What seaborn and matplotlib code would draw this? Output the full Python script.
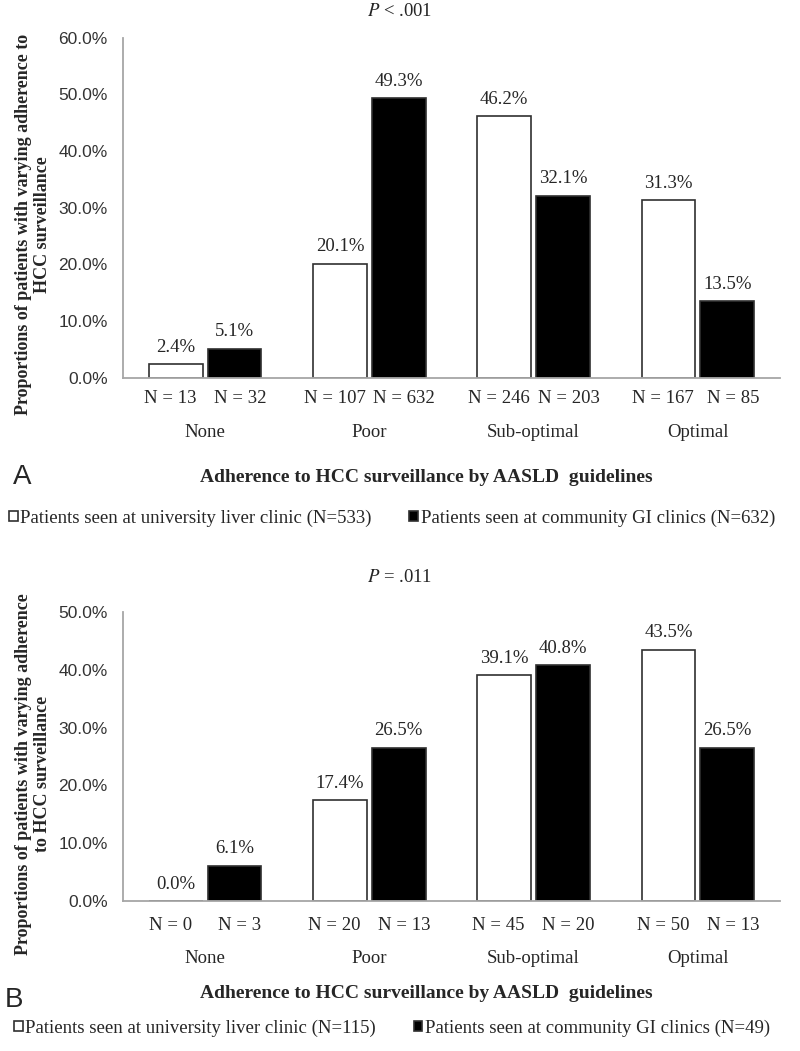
import matplotlib
matplotlib.use("Agg")
import matplotlib.pyplot as plt
import pandas as pd
import seaborn as sns
from matplotlib.ticker import FuncFormatter


CATEGORIES = ["None", "Poor", "Sub-optimal", "Optimal"]
CLINICS = ["university", "community"]

# panel A
pct_a_univ = [2.4, 20.1, 46.2, 31.3]
pct_a_comm = [5.1, 49.3, 32.1, 13.5]
n_a_univ = [13, 107, 246, 167]
n_a_comm = [32, 632, 203, 85]
legend_a = ["Patients seen at university liver clinic (N=533)",
            "Patients seen at community GI clinics (N=632)"]

# panel B
pct_b_univ = [0.0, 17.4, 39.1, 43.5]
pct_b_comm = [6.1, 26.5, 40.8, 26.5]
n_b_univ = [0, 20, 45, 50]
n_b_comm = [3, 13, 20, 13]
legend_b = ["Patients seen at university liver clinic (N=115)",
            "Patients seen at community GI clinics (N=49)"]

XLABEL = "Adherence to HCC surveillance by AASLD  guidelines"
YLABEL_A = "Proportions of patients with varying adherence to\nHCC surveillance"
YLABEL_B = "Proportions of patients with varying adherence\nto HCC surveillance"

SERIF = ["Liberation Serif", "DejaVu Serif"]
SANS = ["Liberation Sans", "DejaVu Sans"]
GRAY = "#a6a6a6"
PALETTE = {"university": "white", "community": "black"}
FS = 13.5


def build_frame(univ, comm, n_univ, n_comm):
    rows = []
    for clinic, vals, ns in (("university", univ, n_univ), ("community", comm, n_comm)):
        for cat, v, n in zip(CATEGORIES, vals, ns):
            rows.append({"category": cat, "clinic": clinic, "pct": v, "n": n})
    return pd.DataFrame(rows)


def draw_panel(ax, df, ymax, ylabel, ylabel_y, n_offset, cat_pad, div_len):
    sns.barplot(data=df, x="category", y="pct", hue="clinic", order=CATEGORIES,
                hue_order=CLINICS, palette=PALETTE, width=0.715, gap=0.085,
                edgecolor="#303030", linewidth=1.2, errorbar=None, legend=False, ax=ax)

    ax.set_xlim(-0.5, len(CATEGORIES) - 0.5)
    ax.set_ylim(0, ymax)
    ax.set_yticks(range(0, ymax + 1, 10))
    ax.yaxis.set_major_formatter(FuncFormatter(lambda v, _: f"{v:.1f}%"))
    for lab in ax.get_yticklabels():
        lab.set_family(SANS)
        lab.set_fontsize(12.5)
        lab.set_color("#333333")

    sns.despine(ax=ax, top=True, right=True)
    for side in ("left", "bottom"):
        ax.spines[side].set_color(GRAY)
        ax.spines[side].set_linewidth(1.3)
    ax.tick_params(axis="y", length=5, width=1.2, color=GRAY, direction="out", pad=6)

    # category separators drawn as long minor ticks
    ax.set_xticks([i - 0.5 for i in range(len(CATEGORIES) + 1)], minor=True)
    ax.tick_params(axis="x", which="minor", length=div_len, width=1.3, color=GRAY, direction="out")
    ax.tick_params(axis="x", which="major", length=0, pad=cat_pad, labelsize=FS)
    for lab in ax.get_xticklabels():
        lab.set_family(SERIF)

    ax.set_xlabel("")
    ax.set_ylabel(ylabel, fontsize=13, fontweight="bold", family=SERIF, linespacing=1.15)
    ax.yaxis.set_label_coords(-0.11, ylabel_y)

    for container, clinic, shift in zip(ax.containers, CLINICS, (-4, 4)):
        ax.bar_label(container, fmt=lambda v: f"{v:.1f}%", padding=6, fontsize=FS, family=SERIF)
        ns = df.loc[df["clinic"] == clinic, "n"].tolist()
        for patch, n in zip(container.patches, ns):
            ax.annotate(f"N = {n}", xy=(patch.get_x() + patch.get_width() / 2, 0),
                        xycoords=ax.get_xaxis_transform(), xytext=(shift, -n_offset),
                        textcoords="offset points", ha="center", va="center",
                        fontsize=FS, family=SERIF)


def add_legend(fig, ax, labels, y):
    handles = [ax.containers[0].patches[0], ax.containers[1].patches[0]]
    fig.legend(handles, labels, loc="center", bbox_to_anchor=(0.49, y), ncol=2,
               frameon=False, prop={"family": SERIF, "size": FS},
               handlelength=0.45, handleheight=0.45, handletextpad=0.15,
               columnspacing=2.0, borderaxespad=0)


def main():
    sns.set_theme(style="white")
    plt.rcParams["font.family"] = SERIF
    plt.rcParams["mathtext.fontset"] = "stix"

    W, H = 800, 1051
    fig = plt.figure(figsize=(W / 100, H / 100), dpi=100)

    def fy(px):
        return 1 - px / H

    left, right = 123 / W, 780 / W
    ax_a = fig.add_axes([left, fy(377.7), right - left, fy(37.7) - fy(377.7)])
    ax_b = fig.add_axes([left, fy(901), right - left, fy(612) - fy(901)])

    df_a = build_frame(pct_a_univ, pct_a_comm, n_a_univ, n_a_comm)
    df_b = build_frame(pct_b_univ, pct_b_comm, n_b_univ, n_b_comm)

    draw_panel(ax_a, df_a, 60, YLABEL_A, 0.45, n_offset=15, cat_pad=33, div_len=47)
    draw_panel(ax_b, df_b, 50, YLABEL_B, 0.44, n_offset=18, cat_pad=35, div_len=48)

    fig.text(0.5, fy(12), r"$P$ < .001", ha="center", va="center", fontsize=FS)
    fig.text(0.5, fy(578), r"$P$ = .011", ha="center", va="center", fontsize=FS)

    fig.text(426 / W, fy(477), XLABEL, ha="center", va="center", fontsize=14, fontweight="bold")
    fig.text(426 / W, fy(993), XLABEL, ha="center", va="center", fontsize=14, fontweight="bold")

    fig.text(22 / W, fy(477), "A", ha="center", va="center", fontsize=20, family=SANS)
    fig.text(14 / W, fy(1000), "B", ha="center", va="center", fontsize=20, family=SANS)

    add_legend(fig, ax_a, legend_a, fy(518))
    add_legend(fig, ax_b, legend_b, fy(1028))

    fig.savefig("out.png", dpi=100, facecolor="white")
    plt.close(fig)


if __name__ == "__main__":
    main()
